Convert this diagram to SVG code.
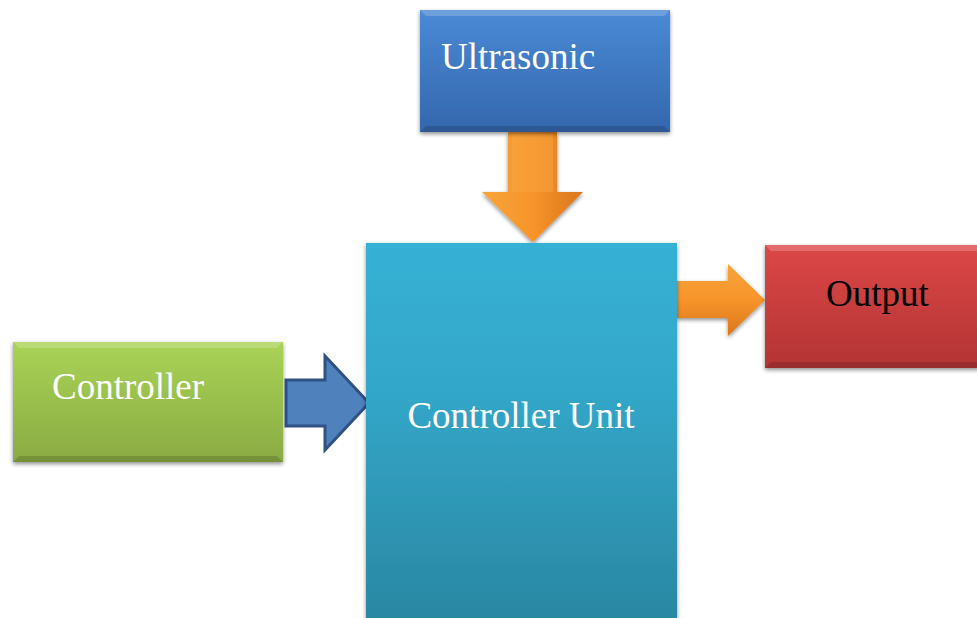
<svg xmlns="http://www.w3.org/2000/svg" width="977" height="618" viewBox="0 0 977 618">
<style>
.lbl{font-family:"Liberation Serif","Times New Roman",serif;font-size:37px}
.w{fill:#ffffff}
.k{fill:#000000}
</style>
<defs>
<linearGradient id="gBlue" x1="0" y1="0" x2="0" y2="1"><stop offset="0" stop-color="#4a8ad6"/><stop offset="1" stop-color="#3467ad"/></linearGradient>
<linearGradient id="gCyan" x1="0" y1="0" x2="0" y2="1"><stop offset="0" stop-color="#36b1d5"/><stop offset="0.4" stop-color="#33a6c8"/><stop offset="1" stop-color="#2a87a2"/></linearGradient>
<linearGradient id="gRed" x1="0" y1="0" x2="0" y2="1"><stop offset="0" stop-color="#dd4747"/><stop offset="1" stop-color="#b33434"/></linearGradient>
<linearGradient id="gGreen" x1="0" y1="0" x2="0" y2="1"><stop offset="0" stop-color="#a9d356"/><stop offset="1" stop-color="#8aab43"/></linearGradient>
<linearGradient id="gOrV" x1="0" y1="0" x2="1" y2="0"><stop offset="0" stop-color="#f7a53a"/><stop offset="0.5" stop-color="#f7942a"/><stop offset="1" stop-color="#d9761c"/></linearGradient>
<linearGradient id="gOrH" x1="0" y1="0" x2="0" y2="1"><stop offset="0" stop-color="#f7a53a"/><stop offset="0.5" stop-color="#f7942a"/><stop offset="1" stop-color="#d9761c"/></linearGradient>
<filter id="sh" x="-10%" y="-10%" width="120%" height="130%"><feGaussianBlur in="SourceAlpha" stdDeviation="2"/><feOffset dx="0" dy="2"/><feComponentTransfer><feFuncA type="linear" slope="0.45"/></feComponentTransfer><feMerge><feMergeNode/><feMergeNode in="SourceGraphic"/></feMerge></filter>
</defs>

<g id="connectors">
  <path d="M508,132 H557 V192 H583 L533,242 L482,192 H508 Z" fill="url(#gOrV)" filter="url(#sh)"/>
  <path d="M512,134 H553 V192 H512 Z" fill="#f9a640" opacity="0.5"/>
  <path d="M677,281 H728 V264 L765,300 L728,336 V318 H677 Z" fill="url(#gOrH)" filter="url(#sh)"/>
  <path d="M286,380 H325 V356 L369,403 L325,450 V426 H286 Z" fill="#4f81bd" stroke="#2f5184" stroke-width="3" stroke-linejoin="miter"/>
</g>

<g id="node-ultrasonic">
  <rect x="420" y="10" width="250" height="122" fill="url(#gBlue)" filter="url(#sh)"/>
  <path d="M420,10 H670 L664,16 H426 Z" fill="#ffffff" opacity="0.2"/>
  <path d="M420,132 H670 L664,126 H426 Z" fill="#000000" opacity="0.15"/>
  <text class="lbl w" x="441" y="69">Ultrasonic</text>
</g>

<g id="node-controller-unit">
  <rect x="366" y="243" width="311" height="380" fill="url(#gCyan)" filter="url(#sh)"/>
  <text class="lbl w" x="521" y="428" text-anchor="middle" font-size="38">Controller Unit</text>
</g>

<g id="node-output">
  <rect x="765" y="245" width="215" height="123" fill="url(#gRed)" filter="url(#sh)"/>
  <path d="M765,245 H980 V251 H771 Z" fill="#ffffff" opacity="0.2"/>
  <path d="M765,368 H980 V362 H771 Z" fill="#000000" opacity="0.15"/>
  <text class="lbl k" x="826" y="306">Output</text>
</g>

<g id="node-controller">
  <rect x="13" y="342" width="270" height="120" fill="url(#gGreen)" filter="url(#sh)"/>
  <path d="M13,342 H283 L277,348 H19 Z" fill="#ffffff" opacity="0.2"/>
  <path d="M13,462 H283 L277,456 H19 Z" fill="#000000" opacity="0.15"/>
  <text class="lbl w" x="52" y="399">Controller</text>
</g>
</svg>
